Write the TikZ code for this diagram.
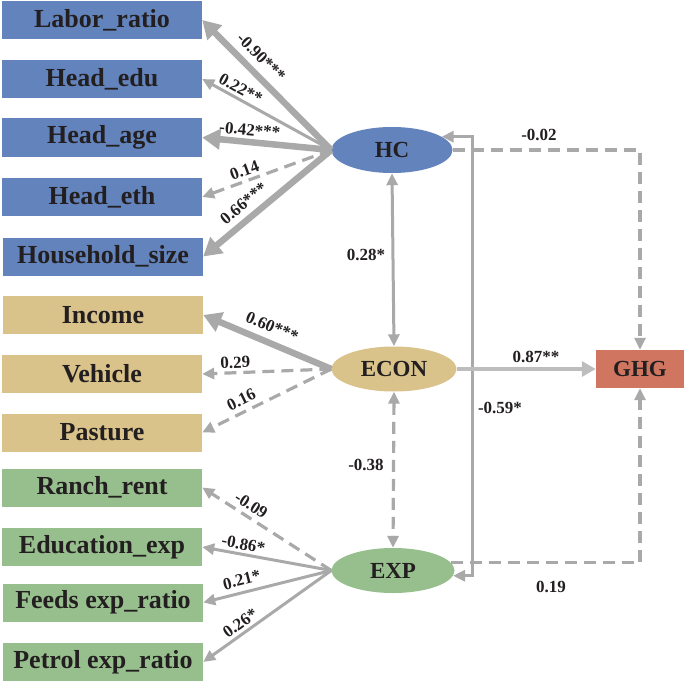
\documentclass[tikz,border=0pt]{standalone}
\usepackage{fontspec}
\setmainfont{Liberation Serif}
\usetikzlibrary{arrows.meta,shapes.geometric,calc}
\definecolor{cblue}{HTML}{6383BC}
\definecolor{ctan}{HTML}{D9C38A}
\definecolor{cgreen}{HTML}{97BF8D}
\definecolor{cghg}{HTML}{D07660}
\definecolor{carr}{HTML}{A9A9A9}
\definecolor{carrl}{HTML}{BDBDBD}
\definecolor{ctxt}{HTML}{231F20}
\begin{document}
\begin{tikzpicture}[x=1pt,y=-1pt,
  obs/.style={rectangle,minimum width=200pt,minimum height=38pt,inner sep=0pt,text=ctxt,font=\fontsize{26}{26}\selectfont\bfseries},
  lat/.style={ellipse,minimum width=121pt,minimum height=46pt,inner sep=0pt,text=ctxt,font=\fontsize{23}{23}\selectfont\bfseries},
  lbl/.style={text=ctxt,font=\fontsize{17}{17}\selectfont\bfseries,inner sep=1pt},
  thin/.style={draw=carr,line width=3pt,-{Triangle[length=12pt,width=11pt]}},
  thick/.style={draw=carr,line width=6.5pt,-{Triangle[length=18pt,width=20pt]}},
  dsh/.style={draw=carr,line width=3.2pt,dash pattern=on 12pt off 7pt,-{Triangle[length=12pt,width=11pt]}},
  both/.style={{Triangle[length=12pt,width=11pt]}-{Triangle[length=12pt,width=11pt]}}
]
\useasboundingbox (0,0) rectangle (685,682);

% observed boxes
\node[obs,fill=cblue] (lab) at (102,20) {Labor\_ratio};
\node[obs,fill=cblue] (edu) at (102,79) {Head\_edu};
\node[obs,fill=cblue] (age) at (102,137.5) {Head\_age};
\node[obs,fill=cblue] (eth) at (102,197) {Head\_eth};
\node[obs,fill=cblue] (hh) at (103,256.5) {Household\_size};
\node[obs,fill=ctan] (inc) at (103,315) {Income};
\node[obs,fill=ctan] (veh) at (102,374) {Vehicle};
\node[obs,fill=ctan] (pas) at (102,432.5) {Pasture};
\node[obs,fill=cgreen] (ran) at (102,487.5) {Ranch\_rent};
\node[obs,fill=cgreen] (edx) at (102,547) {Education\_exp};
\node[obs,fill=cgreen] (fee) at (103,602.5) {Feeds exp\_ratio};
\node[obs,fill=cgreen] (pet) at (103,662) {Petrol exp\_ratio};

% latent
\node[lat,fill=cblue] (HC) at (392,150) {HC};
\node[lat,fill=ctan,minimum width=125pt,minimum height=45pt] (ECON) at (394,369) {ECON};
\node[lat,fill=cgreen,minimum width=123pt,minimum height=45pt] (EXP) at (393,570.5) {EXP};
\node[obs,fill=cghg,minimum width=88pt,font=\fontsize{23}{23}\selectfont\bfseries] (GHG) at (640,369) {GHG};

% HC loadings
\draw[thick] (HC.west) -- (lab.east) node[lbl,pos=0.63,sloped,above=6pt] {-0.90***};
\draw[thin] (HC.west) -- (edu.east) node[lbl,pos=0.74,sloped,above=2pt] {0.22**};
\draw[thick] (HC.west) -- (age.east) node[lbl,pos=0.64,sloped,above=2pt] {-0.42***};
\draw[dsh] (HC.west) -- (eth.east) node[lbl,pos=0.645,sloped,above=2pt] {0.14};
\draw[thick] (HC.west) -- (hh.east) node[lbl,pos=0.61,sloped,above=5pt] {0.66***};

% ECON loadings
\draw[thick] (ECON.west) -- (inc.east) node[lbl,pos=0.51,sloped,above=6pt] {0.60***};
\draw[dsh] (ECON.west) -- (veh.east) node[lbl,pos=0.74,sloped,above=1.7pt] {0.29};
\draw[dsh] (ECON.west) -- (pas.east) node[lbl,pos=0.655,sloped,above=4pt] {0.16};

% EXP loadings
\draw[dsh] (EXP.west) -- (ran.east) node[lbl,pos=0.67,sloped,above=3.4pt] {-0.09};
\draw[thin] (EXP.west) -- (edx.east) node[lbl,pos=0.695,sloped,above=1.7pt] {-0.86*};
\draw[thin] (EXP.west) -- (fee.east) node[lbl,pos=0.675,sloped,above=4.2pt] {0.21*};
\draw[thin] (EXP.west) -- (pet.east) node[lbl,pos=0.665,sloped,above=2pt] {0.26*};

% covariances
\draw[thin,both] (HC.south) -- (ECON.north);
\node[lbl] (l28) at (366,255) {0.28*};
\draw[dsh,both] (ECON.south) -- (EXP.north);
\node[lbl] (l38) at (366,465) {-0.38};

\coordinate (rt) at (472,0);
\draw[thin,both,line join=miter] (HC.15) -- (HC.15 -| rt) -- (EXP.-5 -| rt) -- (EXP.-5);
\node[lbl] (l59) at (500,408) {-0.59*};

% paths to GHG
\draw[dsh] (HC.east) -- (HC.east -| GHG) -- (GHG.north);
\node[lbl] (l02) at (539,135) {-0.02};
\draw[draw=carrl,line width=3.8pt,-{Triangle[length=14pt,width=15pt]}] (ECON.east) -- (GHG.west);
\node[lbl] (l87) at (536,357) {0.87**};
\draw[dsh] (EXP.8) -- (EXP.8 -| GHG) -- (GHG.south);
\node[lbl] (l19) at (551,587) {0.19};
\end{tikzpicture}
\end{document}
